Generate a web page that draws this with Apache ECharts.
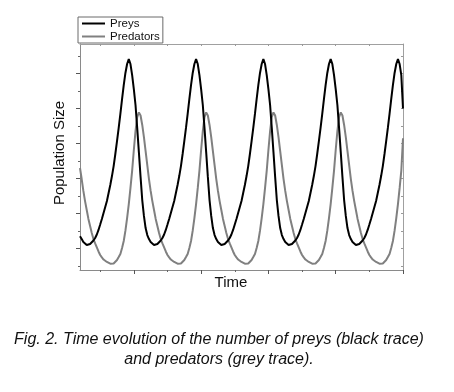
<!DOCTYPE html>
<html>
<head>
<meta charset="utf-8">
<script src="https://cdn.jsdelivr.net/npm/echarts@6/dist/echarts.min.js"></script>
<style>
html,body{margin:0;padding:0;background:#fff;}
#chart{width:454px;height:392px;}
</style>
</head>
<body>
<div id="chart"></div>
<script>
// Time samples (arbitrary units)
const time = [
0.40,0.45,0.50,0.55,0.60,0.65,0.70,0.75,0.80,0.85,0.90,0.95,1.00,1.05,1.10,1.15,1.20,1.25,1.30,1.35,
1.40,1.45,1.50,1.55,1.60,1.65,1.70,1.75,1.80,1.85,1.90,1.95,2.00,2.05,2.10,2.15,2.20,2.25,2.30,2.35,
2.40,2.45,2.50,2.55,2.60,2.65,2.70,2.75,2.80,2.85,2.90,2.95,3.00,3.05,3.10,3.15,3.20,3.25,3.30,3.35,
3.40,3.45,3.50,3.55,3.60,3.65,3.70,3.75,3.80,3.85,3.90,3.95,4.00,4.05,4.10,4.15,4.20,4.25,4.30,4.35,
4.40,4.45,4.50,4.55,4.60,4.65,4.70,4.75,4.80,4.85,4.90,4.95,5.00,5.05,5.10,5.15,5.20,5.25,5.30,5.35,
5.40,5.45,5.50,5.55,5.60,5.65,5.70,5.75,5.80,5.85,5.90,5.95,6.00,6.05,6.10,6.15,6.20,6.25,6.30,6.35,
6.40,6.45,6.50,6.55,6.60,6.65,6.70,6.75,6.80,6.85,6.90,6.95,7.00,7.05,7.10,7.15,7.20,7.25,7.30,7.35,
7.40,7.45,7.50,7.55,7.60,7.65,7.70,7.75,7.80,7.85,7.90,7.95,8.00,8.05,8.10,8.15,8.20,8.25,8.30,8.35,
8.40,8.45,8.50,8.55,8.60,8.65,8.70,8.75,8.80,8.85,8.90,8.95,9.00,9.05,9.10,9.15,9.20,9.25,9.30,9.35,
9.40,9.45,9.50,9.55,9.60,9.65,9.70,9.75,9.80,9.85,9.90,9.95,10.00
];

// Preys (black trace)
const preys = [
2.70,2.54,2.37,2.26,2.20,2.22,2.26,2.34,2.46,2.60,2.80,3.06,3.37,3.69,4.03,4.37,4.71,5.17,5.63,6.14,6.71,7.40,8.14,8.89,9.69,10.54,11.34,12.03,12.54,
12.83,12.54,11.91,11.11,10.20,8.89,7.51,6.09,4.77,3.86,3.17,2.77,2.54,2.37,2.26,2.20,2.22,2.26,2.34,2.46,2.60,2.80,3.06,3.37,3.69,4.03,4.37,4.71,5.17,5.63,6.14,6.71,7.40,8.14,8.89,9.69,10.54,11.34,12.03,12.54,
12.83,12.54,11.91,11.11,10.20,8.89,7.51,6.09,4.77,3.86,3.17,2.77,2.54,2.37,2.26,2.20,2.22,2.26,2.34,2.46,2.60,2.80,3.06,3.37,3.69,4.03,4.37,4.71,5.17,5.63,6.14,6.71,7.40,8.14,8.89,9.69,10.54,11.34,12.03,12.54,
12.83,12.54,11.91,11.11,10.20,8.89,7.51,6.09,4.77,3.86,3.17,2.77,2.54,2.37,2.26,2.20,2.22,2.26,2.34,2.46,2.60,2.80,3.06,3.37,3.69,4.03,4.37,4.71,5.17,5.63,6.14,6.71,7.40,8.14,8.89,9.69,10.54,11.34,12.03,12.54,
12.83,12.54,11.91,11.11,10.20,8.89,7.51,6.09,4.77,3.86,3.17,2.77,2.54,2.37,2.26,2.20,2.22,2.26,2.34,2.46,2.60,2.80,3.06,3.37,3.69,4.03,4.37,4.71,5.17,5.63,6.14,6.71,7.40,8.14,8.89,9.69,10.54,11.34,12.03,12.54,
12.83,12.54,11.91,10.00
];

// Predators (grey trace)
const predators = [
6.60,5.97,5.29,4.71,4.20,3.69,3.29,2.89,2.54,2.29,2.06,1.83,1.63,1.49,1.37,1.29,1.23,1.17,1.13,1.11,1.14,1.23,1.34,1.51,1.69,2.03,2.43,3.02,3.74,4.54,5.46,6.45,7.63,8.71,9.51,
9.78,9.60,9.06,8.37,7.57,6.77,5.97,5.29,4.71,4.20,3.69,3.29,2.89,2.54,2.29,2.06,1.83,1.63,1.49,1.37,1.29,1.23,1.17,1.13,1.11,1.14,1.23,1.34,1.51,1.69,2.03,2.43,3.02,3.74,4.54,5.46,6.45,7.63,8.71,9.51,
9.78,9.60,9.06,8.37,7.57,6.77,5.97,5.29,4.71,4.20,3.69,3.29,2.89,2.54,2.29,2.06,1.83,1.63,1.49,1.37,1.29,1.23,1.17,1.13,1.11,1.14,1.23,1.34,1.51,1.69,2.03,2.43,3.02,3.74,4.54,5.46,6.45,7.63,8.71,9.51,
9.78,9.60,9.06,8.37,7.57,6.77,5.97,5.29,4.71,4.20,3.69,3.29,2.89,2.54,2.29,2.06,1.83,1.63,1.49,1.37,1.29,1.23,1.17,1.13,1.11,1.14,1.23,1.34,1.51,1.69,2.03,2.43,3.02,3.74,4.54,5.46,6.45,7.63,8.71,9.51,
9.78,9.60,9.06,8.37,7.57,6.77,5.97,5.29,4.71,4.20,3.69,3.29,2.89,2.54,2.29,2.06,1.83,1.63,1.49,1.37,1.29,1.23,1.17,1.13,1.11,1.14,1.23,1.34,1.51,1.69,2.03,2.43,3.02,3.74,4.54,5.46,6.45,8.30
];

// Tick positions (no labels shown in the original)
const xMajorTicks = [2, 4, 6, 8, 10];
const xMinorTicks = [1, 3, 5, 7, 9];
const yMajorTicks = [2, 4, 6, 8, 10, 12];
const yMinorTicks = [1, 3, 5, 7, 9, 11, 13];

const seriesNames = ['Preys', 'Predators'];
const xAxisName = 'Time';
const yAxisName = 'Population Size';
const captionLines = [
  'Fig. 2. Time evolution of the number of preys (black trace)',
  'and predators (grey trace).'
];

const FONT = '"Liberation Sans", Arial, sans-serif';
const axisGrey = '#8a8a8a';
const X_MIN = 0.40, X_MAX = 10.00, Y_MIN = 0.771, Y_MAX = 13.686;

function toPairs(xs, ys) { return xs.map((x, i) => [x, ys[i]]); }

const chart = echarts.init(document.getElementById('chart'), null, { renderer: 'canvas' });

function xAx(extra) {
  return Object.assign({
    type: 'value', min: X_MIN, max: X_MAX,
    splitLine: { show: false },
    axisLabel: { show: false },
    axisLine: { show: false, lineStyle: { color: axisGrey, width: 1 } },
    axisTick: { show: false }
  }, extra);
}
function yAx(extra) {
  return Object.assign({
    type: 'value', min: Y_MIN, max: Y_MAX,
    splitLine: { show: false },
    axisLabel: { show: false },
    axisLine: { show: false, lineStyle: { color: axisGrey, width: 1 } },
    axisTick: { show: false }
  }, extra);
}

chart.setOption({
  animation: false,
  backgroundColor: '#ffffff',
  grid: { left: 80, top: 44, right: 51, bottom: 122, containLabel: false },
  legend: {
    data: seriesNames,
    orient: 'vertical',
    left: 78, top: 17,
    backgroundColor: '#ffffff',
    borderColor: '#6a6a6a', borderWidth: 1,
    padding: [0, 3, 0, 4],
    icon: 'rect',
    itemWidth: 23, itemHeight: 2, itemGap: 0,
    textStyle: { fontFamily: FONT, fontSize: 11.5, color: '#111', lineHeight: 13 },
    z: 10
  },
  xAxis: [
    xAx({ position: 'bottom',
      axisLine: { show: true, onZero: false, lineStyle: { color: axisGrey, width: 1 } },
      axisTick: { show: true, inside: false, length: 4, customValues: xMajorTicks, lineStyle: { color: '#555' } } }),
    xAx({ position: 'bottom',
      axisTick: { show: true, inside: false, length: 2, customValues: xMinorTicks, lineStyle: { color: '#666' } } }),
    xAx({ position: 'top',
      axisLine: { show: true, onZero: false, lineStyle: { color: '#a0a0a0', width: 1 } },
      axisTick: { show: true, inside: true, length: 2, customValues: xMajorTicks.concat(xMinorTicks), lineStyle: { color: '#999' } } })
  ],
  yAxis: [
    yAx({ position: 'left',
      axisLine: { show: true, onZero: false, lineStyle: { color: axisGrey, width: 1 } },
      axisTick: { show: true, inside: false, length: 4, customValues: yMajorTicks, lineStyle: { color: '#555' } } }),
    yAx({ position: 'left',
      axisTick: { show: true, inside: false, length: 2, customValues: yMinorTicks, lineStyle: { color: '#666' } } }),
    yAx({ position: 'right',
      axisLine: { show: true, onZero: false, lineStyle: { color: '#a0a0a0', width: 1 } },
      axisTick: { show: true, inside: true, length: 2, customValues: yMajorTicks.concat(yMinorTicks), lineStyle: { color: '#999' } } })
  ],
  series: [
    {
      name: seriesNames[0], type: 'line', xAxisIndex: 0, yAxisIndex: 0,
      data: toPairs(time, preys),
      symbol: 'none', showSymbol: false, smooth: false,
      color: '#000000',
      lineStyle: { color: '#000000', width: 2 },
      z: 3
    },
    {
      name: seriesNames[1], type: 'line', xAxisIndex: 0, yAxisIndex: 0,
      data: toPairs(time, predators),
      symbol: 'none', showSymbol: false, smooth: false,
      color: '#808080',
      lineStyle: { color: '#808080', width: 2 },
      z: 2
    }
  ],
  graphic: [
    { type: 'text', x: 231, y: 283,
      style: { text: xAxisName, font: '15px "Liberation Sans", Arial, sans-serif', fill: '#111', align: 'center', verticalAlign: 'middle' } },
    { type: 'text', x: 60, y: 153, rotation: Math.PI / 2,
      style: { text: yAxisName, font: '15px "Liberation Sans", Arial, sans-serif', fill: '#111', align: 'center', verticalAlign: 'middle' } },
    { type: 'text', x: 219, y: 340,
      style: { text: captionLines[0], font: 'italic 16px "Liberation Sans", Arial, sans-serif', fill: '#111', align: 'center', verticalAlign: 'middle' } },
    { type: 'text', x: 219, y: 360,
      style: { text: captionLines[1], font: 'italic 16px "Liberation Sans", Arial, sans-serif', fill: '#111', align: 'center', verticalAlign: 'middle' } }
  ]
});
</script>
</body>
</html>
